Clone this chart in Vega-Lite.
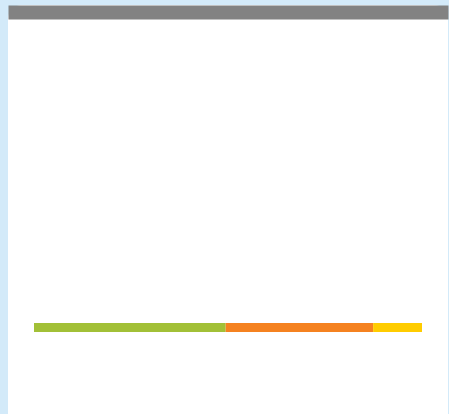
{
  "$schema": "https://vega.github.io/schema/vega-lite/v6.json",
  "width": 449,
  "height": 414,
  "autosize": {"type": "fit", "contains": "padding"},
  "padding": {"left": 8, "top": 5, "right": 1, "bottom": -15},
  "background": "#d3eaf9",
  "config": {
    "view": {"fill": "#ffffff", "stroke": null, "cornerRadius": 14}
  },
  "data": {
    "values": [
      {"segment": "A", "order": 1, "share": 49.4, "row": "bar"},
      {"segment": "B", "order": 2, "share": 38.0, "row": "bar"},
      {"segment": "C", "order": 3, "share": 12.6, "row": "bar"}
    ]
  },
  "mark": {"type": "bar"},
  "encoding": {
    "x": {
      "field": "share",
      "type": "quantitative",
      "stack": "zero",
      "scale": {"domain": [0, 100], "padding": 26, "nice": false, "zero": false},
      "axis": {
        "orient": "top",
        "title": null,
        "labels": false,
        "ticks": false,
        "grid": false,
        "domainColor": "#828282",
        "domainWidth": 14,
        "offset": -7
      }
    },
    "y": {
      "field": "row",
      "type": "nominal",
      "scale": {"paddingInner": 0.95663, "paddingOuter": 1, "align": 0.7663},
      "axis": null
    },
    "color": {
      "field": "segment",
      "type": "nominal",
      "scale": {"domain": ["A", "B", "C"], "range": ["#a2c037", "#f58220", "#ffcc00"]},
      "legend": null
    },
    "order": {"field": "order", "type": "quantitative"}
  }
}
